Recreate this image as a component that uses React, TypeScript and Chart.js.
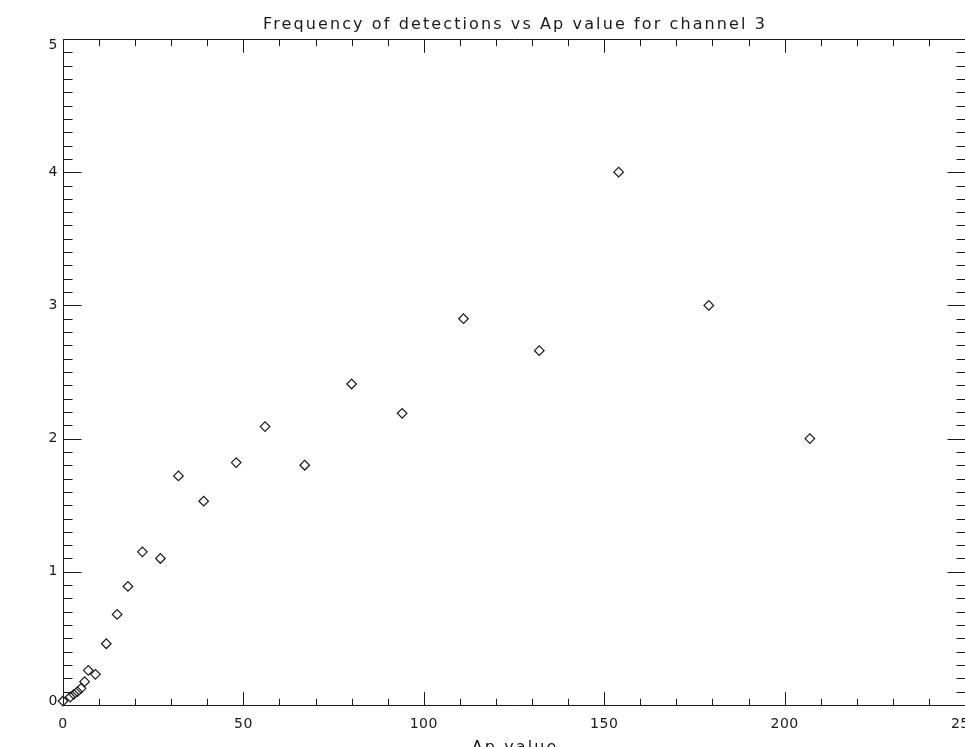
import React, { useEffect, useRef } from "react";
import { Chart, registerables } from "chart.js";

Chart.register(...registerables);

const chartTitle = "Frequency of detections vs Ap value for channel 3";
const xAxisTitle = "Ap value";
const apValues = [0, 2, 3, 4, 5, 6, 7, 9, 12, 15, 18, 22, 27, 32, 39, 48, 56, 67, 80, 94, 111, 132, 154, 179, 207];
const frequencies = [0.03, 0.06, 0.08, 0.1, 0.125, 0.175, 0.26, 0.23, 0.46, 0.68, 0.89, 1.15, 1.1, 1.72, 1.53, 1.82, 2.09, 1.8, 2.41, 2.19, 2.9, 2.66, 4.0, 3.0, 2.0];
const xRange = [0, 250];
const yRange = [0, 5];
const xMajorStep = 50;
const xMinorStep = 10;
const yMajorStep = 1;
const yMinorStep = 0.1;

const FONT = '"DejaVu Sans", sans-serif';
const INK = "#1a1a1a";

const idlFramePlugin = {
  id: "idlFrame",
  afterDatasetsDraw(chart: any) {
    const { ctx, chartArea: a, scales } = chart;
    const xs = scales.x;
    const ys = scales.y;
    const L = Math.round(a.left) + 0.5;
    const R = Math.round(a.right) + 0.5;
    const T = Math.round(a.top) + 0.5;
    const B = Math.round(a.bottom) + 0.5;
    const h = a.bottom - a.top;
    const w = a.right - a.left;
    const xMaj = 0.02 * h;
    const yMaj = 0.02 * w;
    ctx.save();
    ctx.strokeStyle = INK;
    ctx.lineWidth = 1;
    ctx.beginPath();
    ctx.rect(L, T, R - L, B - T);
    ctx.stroke();
    ctx.beginPath();
    const nx = Math.round((xs.max - xs.min) / xMinorStep);
    for (let i = 0; i <= nx; i++) {
      const v = xs.min + i * xMinorStep;
      const px = Math.round(xs.getPixelForValue(v)) + 0.5;
      const major = Math.abs(v / xMajorStep - Math.round(v / xMajorStep)) < 1e-6;
      const len = major ? xMaj : xMaj / 2;
      ctx.moveTo(px, B);
      ctx.lineTo(px, B - len);
      ctx.moveTo(px, T);
      ctx.lineTo(px, T + len);
    }
    const ny = Math.round((ys.max - ys.min) / yMinorStep);
    for (let i = 0; i <= ny; i++) {
      const v = ys.min + i * yMinorStep;
      const py = Math.round(ys.getPixelForValue(v)) + 0.5;
      const major = Math.abs(v / yMajorStep - Math.round(v / yMajorStep)) < 1e-6;
      const len = major ? yMaj : yMaj / 2;
      ctx.moveTo(L, py);
      ctx.lineTo(L + len, py);
      ctx.moveTo(R, py);
      ctx.lineTo(R - len, py);
    }
    ctx.stroke();

    ctx.fillStyle = INK;
    ctx.font = `14px ${FONT}`;
    (ctx as any).letterSpacing = "0.5px";
    ctx.textAlign = "center";
    ctx.textBaseline = "alphabetic";
    for (const t of xs.ticks) {
      const px = xs.getPixelForValue(t.value);
      ctx.fillText(String(t.value), px, a.bottom + 23);
    }
    ctx.textAlign = "right";
    ctx.textBaseline = "middle";
    for (const t of ys.ticks) {
      let py = ys.getPixelForValue(t.value);
      py = Math.min(Math.max(py, a.top + 6), a.bottom - 4);
      ctx.fillText(String(t.value), a.left - 5, py);
    }

    ctx.font = `16px ${FONT}`;
    (ctx as any).letterSpacing = "0px";
    const tw = ctx.measureText(chartTitle).width;
    const spacing = Math.max(0, (502 - tw) / (chartTitle.length - 1));
    (ctx as any).letterSpacing = `${spacing}px`;
    ctx.textAlign = "center";
    ctx.textBaseline = "alphabetic";
    const cx = (a.left + a.right) / 2;
    ctx.fillText(chartTitle, cx + spacing / 2, 29);
    ctx.fillText(xAxisTitle, cx + spacing / 2, a.bottom + 47);
    ctx.restore();
  },
};

export default function App() {
  const canvasRef = useRef<HTMLCanvasElement | null>(null);

  useEffect(() => {
    document.body.style.margin = "0";
    document.body.style.overflow = "hidden";
    const canvas = canvasRef.current;
    if (!canvas) return;
    const points = apValues.map((x, i) => ({ x, y: frequencies[i] }));
    const chart = new Chart(canvas, {
      type: "scatter",
      data: {
        datasets: [
          {
            data: points,
            pointStyle: "rectRot",
            pointRadius: 4.8,
            pointBorderWidth: 1.2,
            pointBorderColor: INK,
            pointBackgroundColor: "rgba(255,255,255,0)",
            clip: false as any,
          },
        ],
      },
      options: {
        responsive: false,
        devicePixelRatio: 1,
        animation: false,
        layout: { autoPadding: false, padding: { left: 63, top: 39, right: 0, bottom: 42 } },
        plugins: {
          legend: { display: false },
          title: { display: false },
          tooltip: { enabled: false },
        },
        scales: {
          x: {
            type: "linear",
            min: xRange[0],
            max: xRange[1],
            ticks: { display: false, stepSize: xMajorStep },
            grid: { display: false },
            border: { display: false },
            afterFit: (s: any) => {
              s.height = 0;
            },
          },
          y: {
            type: "linear",
            min: yRange[0],
            max: yRange[1],
            ticks: { display: false, stepSize: yMajorStep },
            grid: { display: false },
            border: { display: false },
            afterFit: (s: any) => {
              s.width = 0;
            },
          },
        },
      },
      plugins: [idlFramePlugin],
    });
    return () => chart.destroy();
  }, []);

  return (
    <div style={{ width: 965, height: 747, background: "#fff", overflow: "hidden" }}>
      <canvas ref={canvasRef} width={965} height={747} style={{ display: "block" }} />
    </div>
  );
}
